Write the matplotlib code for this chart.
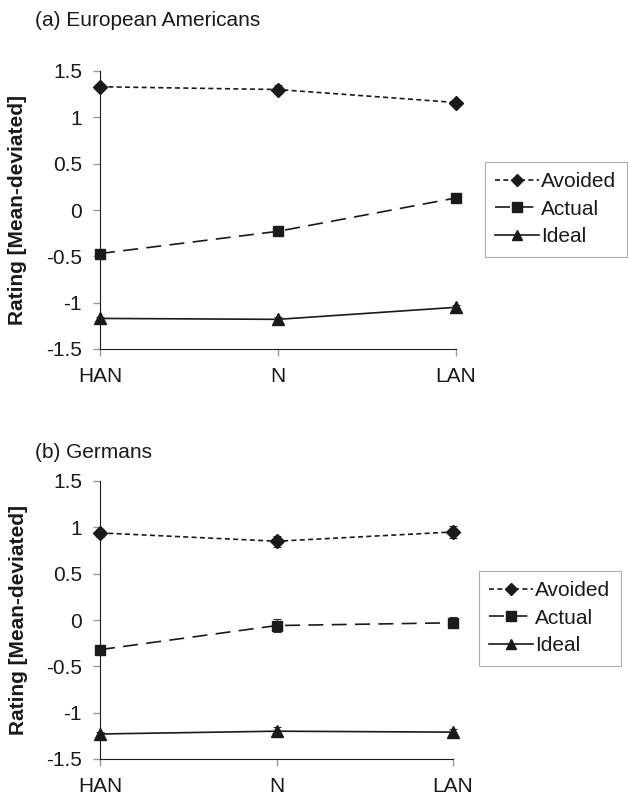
import matplotlib.pyplot as plt
from matplotlib.lines import Line2D

plt.rcParams['font.family'] = ['Liberation Sans', 'DejaVu Sans']

conditions = ["HAN", "N", "LAN"]
series = ["Avoided", "Actual", "Ideal"]

# (a) European Americans
ea_avoided = [1.33, 1.30, 1.16]
ea_actual = [-0.47, -0.23, 0.13]
ea_ideal = [-1.17, -1.18, -1.05]
ea_avoided_err = [0.03, 0.05, 0.03]
ea_actual_err = [0.02, 0.03, 0.03]
ea_ideal_err = [0.02, 0.02, 0.02]

# (b) Germans
de_avoided = [0.94, 0.85, 0.95]
de_actual = [-0.32, -0.06, -0.03]
de_ideal = [-1.23, -1.20, -1.21]
de_avoided_err = [0.04, 0.06, 0.06]
de_actual_err = [0.03, 0.07, 0.06]
de_ideal_err = [0.02, 0.05, 0.03]

yticks = [-1.5, -1, -0.5, 0, 0.5, 1, 1.5]
ytick_labels = ["-1.5", "-1", "-0.5", "0", "0.5", "1", "1.5"]

ink = "#1a1a1a"
fs = 15
styles = {
    "Avoided": dict(marker="D", ms=7, dashes=(3, 2)),
    "Actual": dict(marker="s", ms=7.5, dashes=(9, 5)),
    "Ideal": dict(marker="^", ms=8, dashes=None),
}

fig = plt.figure(figsize=(6.28, 7.96), dpi=100)


def draw_panel(rect, title, title_y, vals, errs, leg_anchor):
    ax = fig.add_axes(rect)
    x = list(range(len(conditions)))
    for name, v, e in zip(series, vals, errs):
        st = styles[name]
        line = ax.errorbar(x, v, yerr=e, color=ink, lw=1.2, marker=st["marker"],
                           ms=st["ms"], mfc=ink, mec=ink, ecolor="#333333",
                           elinewidth=0.8, capsize=3, capthick=0.8, clip_on=False)
        if st["dashes"] is not None:
            line[0].set_dashes(st["dashes"])
    ax.set_xlim(0, len(conditions) - 1)
    ax.set_ylim(-1.5, 1.5)
    ax.set_xticks(x)
    ax.set_xticklabels(conditions)
    ax.set_yticks(yticks)
    ax.set_yticklabels(ytick_labels)
    ax.spines["top"].set_visible(False)
    ax.spines["right"].set_visible(False)
    ax.spines["left"].set_color(ink)
    ax.spines["bottom"].set_color(ink)
    ax.tick_params(axis="both", direction="out", length=5, width=1,
                   color="#999999", labelsize=fs, labelcolor=ink, pad=8)
    ax.set_ylabel("Rating [Mean-deviated]", fontsize=fs, fontweight="bold", color=ink)
    ax.yaxis.set_label_coords(-0.205, 0.5)
    fig.text(35 / 628, title_y, title, fontsize=fs, color=ink, va="center")

    handles = []
    for name in series:
        st = styles[name]
        h = Line2D([], [], color=ink, lw=1.2, marker=st["marker"], ms=st["ms"] * 0.9,
                   mfc=ink, mec=ink)
        if st["dashes"] is not None:
            h.set_dashes(st["dashes"])
        handles.append(h)
    leg = fig.legend(handles, series, loc="upper left", bbox_to_anchor=leg_anchor,
                     fontsize=fs, frameon=True, fancybox=False, handlelength=2.1,
                     handletextpad=0.1, labelspacing=0.4, borderpad=0.5,
                     borderaxespad=0)
    leg.get_frame().set_edgecolor("#999999")
    leg.get_frame().set_linewidth(0.8)
    for t in leg.get_texts():
        t.set_color(ink)
    return ax


draw_panel([100 / 628, 1 - 349 / 796, 356 / 628, 278 / 796],
           "(a) European Americans", 1 - 20 / 796,
           [ea_avoided, ea_actual, ea_ideal],
           [ea_avoided_err, ea_actual_err, ea_ideal_err],
           (485 / 628, 1 - 162 / 796))

draw_panel([100 / 628, 1 - 759 / 796, 353 / 628, 278 / 796],
           "(b) Germans", 1 - 453 / 796,
           [de_avoided, de_actual, de_ideal],
           [de_avoided_err, de_actual_err, de_ideal_err],
           (479 / 628, 1 - 571 / 796))

fig.savefig("out.png", dpi=100)
